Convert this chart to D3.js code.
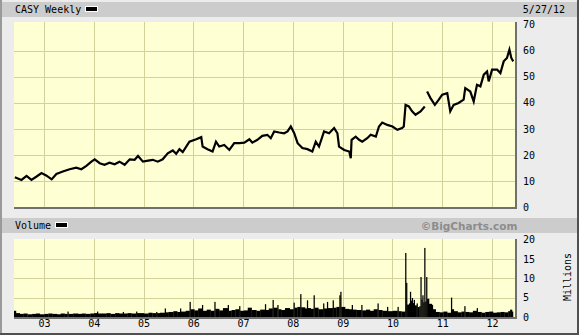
<!DOCTYPE html>
<html>
<head>
<meta charset="utf-8">
<script src="https://cdn.jsdelivr.net/npm/d3@7"></script>
<style>
  body { margin: 0; background: #ececec; }
  svg { display: block; }
  text { font-family: "DejaVu Sans Mono", monospace; font-size: 10px; fill: #000; }
</style>
</head>
<body>
<script>
// weekly closes (approximate)
var priceDates = [
  "2002-06-01","2002-07-20","2002-08-26","2002-10-01","2002-11-08","2002-12-14",
  "2003-01-20","2003-02-26","2003-04-02","2003-05-19","2003-07-08","2003-08-26","2003-10-02","2003-11-08","2003-12-15",
  "2004-01-08","2004-02-14","2004-03-20","2004-04-26","2004-06-02","2004-07-08","2004-08-15","2004-09-21","2004-10-27","2004-11-21","2004-12-27",
  "2005-02-03","2005-03-09","2005-04-15","2005-05-21","2005-06-27","2005-08-03","2005-08-28","2005-09-21","2005-10-15","2005-12-03",
  "2006-01-22","2006-02-28","2006-03-10","2006-04-15","2006-05-22","2006-06-16","2006-07-10","2006-08-16","2006-09-22","2006-10-28","2006-12-04",
  "2007-01-10","2007-02-16","2007-03-10","2007-04-16","2007-05-22","2007-06-28","2007-07-23","2007-08-17","2007-09-23","2007-10-29","2007-11-23","2007-12-17",
  "2008-01-11","2008-02-05","2008-03-11","2008-04-17","2008-05-23","2008-06-17","2008-07-11","2008-08-17","2008-09-23","2008-10-30","2008-11-23","2008-12-05",
  "2009-01-12","2009-02-18","2009-03-01","2009-03-07","2009-04-06","2009-05-01","2009-05-24","2009-06-30","2009-07-25","2009-09-01","2009-09-24","2009-10-18","2009-11-24",
  "2010-01-01","2010-02-06","2010-03-12","2010-03-25","2010-04-07","2010-05-01","2010-05-25","2010-06-19","2010-07-26","2010-08-26","2010-09-02","2010-09-12","2010-10-07","2010-11-08","2010-12-07",
  "2011-01-01","2011-02-07","2011-03-01","2011-03-26","2011-05-01","2011-06-07","2011-06-19","2011-07-26","2011-08-20","2011-09-13","2011-10-08","2011-11-02","2011-11-26","2011-12-08",
  "2012-01-02","2012-02-08","2012-03-03","2012-03-27","2012-04-20","2012-05-08","2012-05-22","2012-06-05"
];
var priceClose = [
  11.4,10.4,11.9,10.4,11.7,13.0,
  12.0,10.6,12.7,13.6,14.5,15.1,14.5,15.8,17.4,
  18.3,16.8,16.2,17.0,16.4,17.4,16.2,18.3,18.1,19.6,17.4,
  17.8,18.1,17.4,18.3,20.6,21.7,20.4,22.2,21.1,25.1,
  26.0,26.8,23.2,22.2,21.3,25.1,23.2,23.8,21.9,24.5,24.5,
  24.7,26.0,24.7,25.8,27.3,27.7,26.4,29.0,28.6,28.3,29.0,30.9,
  28.3,24.5,22.6,22.2,21.3,25.1,23.2,29.0,28.3,30.3,28.3,23.2,
  21.9,21.3,18.7,25.8,27.0,25.8,25.1,26.4,27.7,27.0,30.9,32.4,31.5,
  30.9,29.6,30.3,30.9,39.2,38.6,36.7,35.4,36.7,38.6,null,44.3,41.8,39.2,41.2,
  43.1,43.7,36.7,39.2,39.9,41.2,45.6,44.3,40.5,46.9,46.3,50.8,52.0,48.2,
  52.7,52.7,51.4,55.9,57.2,60.4,57.2,55.9
];

// volume in millions
var volDates = [
  "2002-05-26","2002-06-09","2002-07-07","2002-08-04","2002-09-01","2002-10-06","2002-11-03","2002-12-01",
  "2003-01-05","2003-02-02","2003-03-02","2003-04-06","2003-05-04","2003-06-01","2003-06-22","2003-06-29","2003-08-03","2003-09-07","2003-10-05","2003-11-02","2003-12-07",
  "2004-01-04","2004-01-25","2004-02-01","2004-03-07","2004-04-04","2004-05-02","2004-06-06","2004-07-04","2004-08-01","2004-08-08","2004-09-05","2004-10-03","2004-11-07","2004-11-14","2004-12-05",
  "2005-01-02","2005-02-06","2005-03-06","2005-04-03","2005-04-10","2005-05-01","2005-06-05","2005-06-12","2005-07-03","2005-08-07","2005-09-04","2005-09-25","2005-10-02","2005-11-06","2005-12-04","2005-12-11",
  "2006-01-08","2006-02-05","2006-03-05","2006-03-12","2006-04-09","2006-05-07","2006-06-04","2006-06-11","2006-07-09","2006-08-06","2006-09-10","2006-09-17","2006-10-08","2006-11-05","2006-12-03","2006-12-10",
  "2007-01-07","2007-02-04","2007-03-04","2007-04-08","2007-05-06","2007-06-10","2007-06-17","2007-07-08","2007-08-05","2007-08-12","2007-09-09","2007-09-16","2007-10-07","2007-11-04","2007-12-09",
  "2008-01-06","2008-01-13","2008-02-03","2008-02-24","2008-03-02","2008-03-30","2008-04-13","2008-04-20","2008-05-11","2008-06-01","2008-06-08","2008-07-06","2008-08-10","2008-08-17","2008-09-07","2008-09-14","2008-10-19","2008-10-26","2008-11-16","2008-12-07","2008-12-14","2008-12-21",
  "2009-01-18","2009-02-15","2009-03-08","2009-03-15","2009-04-12","2009-05-17","2009-05-24","2009-06-21","2009-07-19","2009-08-16","2009-09-13","2009-09-20","2009-10-18","2009-11-22","2009-11-29",
  "2010-01-03","2010-02-07","2010-02-14","2010-03-07","2010-04-04","2010-04-11","2010-04-18","2010-05-02","2010-05-09","2010-05-16","2010-05-23","2010-05-30","2010-06-06","2010-06-13","2010-06-27","2010-07-04","2010-07-18","2010-07-25","2010-08-01","2010-08-08","2010-08-15","2010-08-22","2010-08-29","2010-09-05","2010-09-12","2010-09-26","2010-10-17","2010-10-24","2010-11-14","2010-12-12",
  "2011-01-09","2011-02-06","2011-03-06","2011-03-13","2011-03-27","2011-04-24","2011-05-22","2011-06-12","2011-06-19","2011-07-17","2011-08-14","2011-09-11","2011-09-18","2011-10-16","2011-11-13","2011-12-11",
  "2012-01-08","2012-02-05","2012-03-04","2012-04-01","2012-04-29","2012-05-13","2012-05-27"
];
var volMillions = [
  1.6,1.0,0.8,0.9,0.7,0.8,0.9,0.7,
  0.8,0.9,0.8,0.7,0.9,0.8,1.4,0.8,0.9,0.8,0.9,0.8,0.9,
  1.0,1.4,0.9,0.9,1.0,0.8,1.0,0.9,1.3,0.9,1.0,0.9,1.4,1.0,1.0,
  0.9,1.1,1.0,1.3,1.0,1.1,2.2,1.2,1.3,1.5,1.3,2.2,1.4,1.6,3.9,2.0,
  1.7,2.2,3.1,1.6,1.9,1.6,3.9,2.1,1.7,2.3,3.1,1.6,1.8,2.0,2.8,1.6,
  1.7,2.4,1.8,1.6,1.9,3.3,1.8,2.2,4.4,2.4,3.1,2.0,1.8,2.3,2.0,
  3.7,2.4,2.6,5.9,2.5,2.2,4.3,2.3,2.1,5.6,2.4,2.0,3.5,2.2,3.9,2.3,4.3,2.4,2.6,5.6,6.5,2.6,
  2.1,2.0,3.1,1.9,1.8,3.1,1.7,1.9,1.6,2.0,3.5,1.8,1.6,2.6,1.5,
  1.6,2.6,1.5,1.4,16.5,8.8,3.2,3.5,6.5,4.2,4.9,3.6,4.4,3.0,3.5,2.6,2.8,10.3,4.5,5.6,3.8,17.8,4.0,10.3,4.7,3.4,3.1,2.0,1.3,1.2,
  1.4,1.1,5.0,2.0,1.5,1.2,1.4,2.8,1.3,1.2,1.6,2.3,1.3,1.1,1.3,1.4,
  1.1,1.2,1.3,1.2,1.5,1.9,1.4
];

var priceTicks = [0, 10, 20, 30, 40, 50, 60, 70];
var volTicks = [0, 5, 10, 15, 20];
var title = "CASY Weekly";
var lastDate = "5/27/12";

var width = 579;
var height = 335;
var parse = d3.timeParse("%Y-%m-%d");

var price = priceDates.map(function (d, i) { return { date: parse(d), v: priceClose[i] }; });
var vol = volDates.map(function (d, i) { return { date: parse(d), v: volMillions[i] }; });

var plotLeft = 14, plotRight = 515;
var priceTop = 22, priceBottom = 207;
var volTop = 239, volBottom = 317;

var x = d3.scaleTime()
    .domain([parse("2002-05-26"), parse("2012-06-18")])
    .range([plotLeft, plotRight]);
var y = d3.scaleLinear().domain([0, 70]).range([priceBottom, 24.6]);
var yv = d3.scaleLinear().domain([0, 20]).range([volBottom, 239.4]);

var svg = d3.select("body").append("svg")
    .attr("width", width)
    .attr("height", height);

// frame
svg.append("rect").attr("width", width).attr("height", height).attr("fill", "#ececec");
svg.append("rect").attr("x", 0).attr("y", 0).attr("width", 2).attr("height", height).attr("fill", "#9a9a9a");
svg.append("rect").attr("x", 577).attr("y", 0).attr("width", 2).attr("height", height).attr("fill", "#505050");
svg.append("rect").attr("x", 0).attr("y", 333).attr("width", width).attr("height", 2).attr("fill", "#505050");

// header bars
svg.append("rect").attr("x", 2).attr("y", 2).attr("width", 575).attr("height", 15).attr("fill", "#cccccc");
svg.append("rect").attr("x", 2).attr("y", 218).attr("width", 575).attr("height", 15).attr("fill", "#cccccc");

svg.append("text").attr("x", 15).attr("y", 13).text(title);
svg.append("rect").attr("x", 85.5).attr("y", 6.5).attr("width", 12).attr("height", 5).attr("fill", "#000").attr("stroke", "#fff");
svg.append("text").attr("x", 565).attr("y", 13).attr("text-anchor", "end").text(lastDate);

svg.append("text").attr("x", 15).attr("y", 229).text("Volume");
svg.append("rect").attr("x", 55.5).attr("y", 222.5).attr("width", 12).attr("height", 5).attr("fill", "#000").attr("stroke", "#fff");
svg.append("text").attr("x", 469).attr("y", 230).attr("text-anchor", "middle")
    .style("font-family", "'DejaVu Sans', sans-serif").style("font-weight", "bold")
    .style("font-size", "10.5px").style("fill", "#8c8c8c")
    .text("\u00A9BigCharts.com");

// panels
function panel(top, bottom) {
    svg.append("rect").attr("x", plotLeft).attr("y", bottom).attr("width", plotRight - plotLeft + 2).attr("height", 2).attr("fill", "#707070");
    svg.append("rect").attr("x", plotRight).attr("y", top).attr("width", 2).attr("height", bottom - top + 2).attr("fill", "#707070");
    svg.append("rect").attr("x", plotLeft).attr("y", top).attr("width", plotRight - plotLeft).attr("height", bottom - top).attr("fill", "#ffffd4");
}
panel(priceTop, priceBottom);
panel(volTop, volBottom);

var years = x.ticks(d3.timeYear.every(1)).filter(function (d) { return x(d) > plotLeft + 2; });

var grid = svg.append("g").attr("stroke", "#d2d29a").attr("stroke-width", 1).attr("shape-rendering", "crispEdges");
[[priceTop, priceBottom], [volTop, volBottom]].forEach(function (p) {
    grid.selectAll(null).data(years).enter().append("line")
        .attr("x1", function (d) { return Math.round(x(d)) + 0.5; })
        .attr("x2", function (d) { return Math.round(x(d)) + 0.5; })
        .attr("y1", p[0]).attr("y2", p[1]);
});
grid.selectAll(null).data(priceTicks.slice(1, -1)).enter().append("line")
    .attr("x1", plotLeft).attr("x2", plotRight)
    .attr("y1", function (d) { return Math.round(y(d)) + 0.5; })
    .attr("y2", function (d) { return Math.round(y(d)) + 0.5; });
grid.selectAll(null).data(volTicks.slice(1, -1)).enter().append("line")
    .attr("x1", plotLeft).attr("x2", plotRight)
    .attr("y1", function (d) { return Math.round(yv(d)) + 0.5; })
    .attr("y2", function (d) { return Math.round(yv(d)) + 0.5; });

// price line
var line = d3.line()
    .defined(function (d) { return d.v != null; })
    .x(function (d) { return x(d.date); })
    .y(function (d) { return y(d.v); });

svg.append("path")
    .datum(price)
    .attr("fill", "none")
    .attr("stroke", "#000")
    .attr("stroke-width", 2.2)
    .attr("stroke-linejoin", "miter")
    .attr("d", line);

// volume bars
var weekPx = x(parse("2002-06-09")) - x(parse("2002-06-02"));
svg.append("g").selectAll("rect")
    .data(vol)
    .enter().append("rect")
    .attr("x", function (d) { return x(d.date); })
    .attr("y", function (d) { return yv(d.v); })
    .attr("width", function (d, i) {
        var next = i < vol.length - 1 ? x(vol[i + 1].date) : x(d.date) + weekPx;
        return Math.max(1.2, next - x(d.date) + 0.3);
    })
    .attr("height", function (d) { return volBottom - yv(d.v); })
    .attr("fill", "#000");

// axes
var priceAxis = svg.append("g")
    .attr("transform", "translate(" + (plotRight + 8) + ",0)")
    .call(d3.axisRight(y).tickValues(priceTicks).tickSize(0).tickPadding(0));
var volAxis = svg.append("g")
    .attr("transform", "translate(" + (plotRight + 8) + ",0)")
    .call(d3.axisRight(yv).tickValues(volTicks).tickSize(0).tickPadding(0));
var xAxis = svg.append("g")
    .attr("transform", "translate(0," + 320 + ")")
    .call(d3.axisBottom(x).tickValues(years).tickFormat(d3.timeFormat("%y")).tickSize(0).tickPadding(0));

[priceAxis, volAxis, xAxis].forEach(function (a) {
    a.select(".domain").remove();
    a.selectAll("text").attr("font-family", null).attr("font-size", null).attr("fill", "#000");
});
xAxis.selectAll("text").attr("dy", "0.71em");

svg.append("text")
    .attr("transform", "translate(567,277) rotate(-90)")
    .attr("text-anchor", "middle")
    .attr("dy", "0.35em")
    .text("Millions");
</script>
</body>
</html>
